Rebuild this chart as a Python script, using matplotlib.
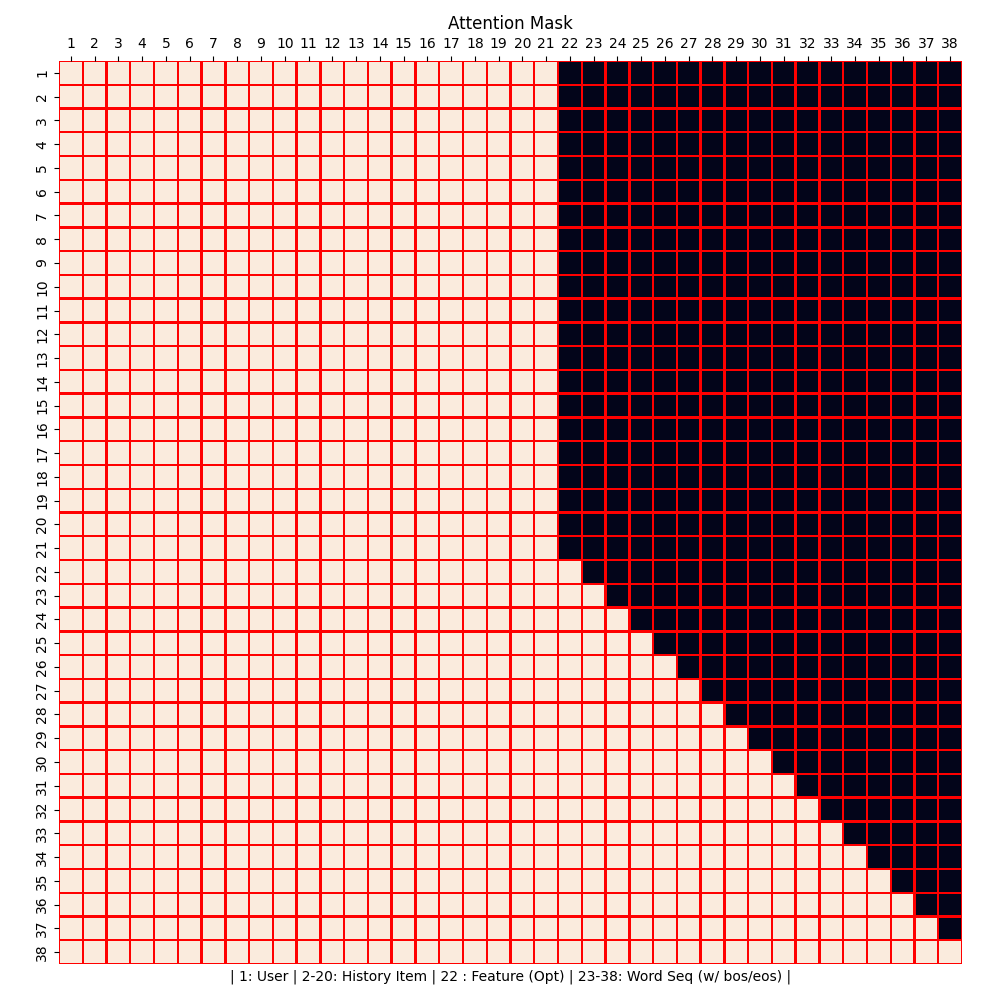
import matplotlib
matplotlib.use("Agg")
import matplotlib.pyplot as plt
import numpy as np
import seaborn as sns

# token layout
n_tokens = 38
prefix_len = 21   # user + history + ... fully visible
tick_labels = [str(i) for i in range(1, n_tokens + 1)]
title = "Attention Mask"
xlabel = "| 1: User | 2-20: History Item | 22 : Feature (Opt) | 23-38: Word Seq (w/ bos/eos) |"

# 1 = can attend, 0 = masked
mask = np.zeros((n_tokens, n_tokens))
for i in range(n_tokens):
    for j in range(n_tokens):
        if j < prefix_len or j <= i:
            mask[i, j] = 1

fig, ax = plt.subplots(figsize=(10, 10), dpi=100)
sns.heatmap(mask, cmap="rocket", cbar=False, linewidths=1, linecolor="red",
            xticklabels=tick_labels, yticklabels=tick_labels, ax=ax)
ax.collections[0].set_snap(False)
ax.xaxis.tick_top()
ax.set_title(title)
ax.set_xlabel(xlabel)
plt.setp(ax.get_xticklabels(), rotation=0)
plt.setp(ax.get_yticklabels(), rotation=90, va="center")
fig.subplots_adjust(left=0.059, right=0.962, top=0.939, bottom=0.036)
fig.savefig("out.png")
